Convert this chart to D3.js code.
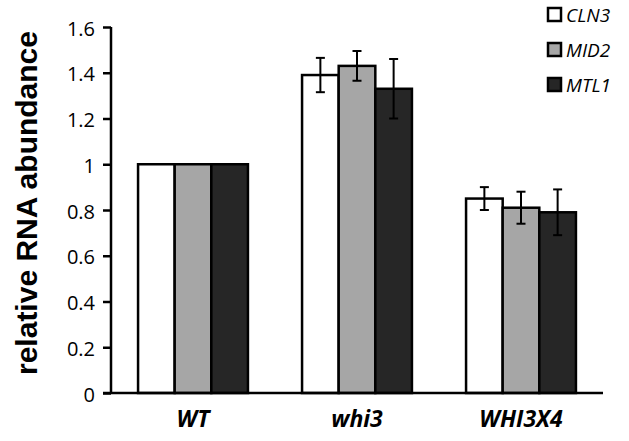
<!DOCTYPE html>
<html>
<head>
<meta charset="utf-8">
<script src="https://cdn.jsdelivr.net/npm/d3@7"></script>
<style>
  body { margin: 0; background: #fff; }
</style>
</head>
<body>
<div id="chart"></div>
<script>
var strains = ["WT", "whi3", "WHI3X4"];
var genes = ["CLN3", "MID2", "MTL1"];
var cln3 = [1, 1.39, 0.85];
var mid2 = [1, 1.43, 0.81];
var mtl1 = [1, 1.33, 0.79];
var cln3Err = [0, 0.075, 0.05];
var mid2Err = [0, 0.065, 0.07];
var mtl1Err = [0, 0.13, 0.10];
var yTicks = [0, 0.2, 0.4, 0.6, 0.8, 1, 1.2, 1.4, 1.6];
var colors = ["#ffffff", "#a6a6a6", "#262626"];

var values = [cln3, mid2, mtl1];
var errs = [cln3Err, mid2Err, mtl1Err];

var width = 629, height = 441;
var plotLeft = 111, plotRight = 603, plotTop = 27, plotBottom = 393;

var svg = d3.select("#chart").append("svg")
  .attr("width", width)
  .attr("height", height);

var x = d3.scaleBand().domain(strains).range([plotLeft, plotRight]).padding(0);
var xi = d3.scaleBand().domain(genes).range([0, x.bandwidth() * 0.67]);
var innerOff = (x.bandwidth() - x.bandwidth() * 0.67) / 2;
var y = d3.scaleLinear().domain([0, 1.6]).range([plotBottom, plotTop]);

// bars
genes.forEach(function(g, gi){
  svg.append("g").selectAll("rect")
    .data(strains)
    .enter().append("rect")
    .attr("x", function(s){ return x(s) + innerOff + xi(g); })
    .attr("y", function(s, i){ return y(values[gi][i]); })
    .attr("width", xi.bandwidth())
    .attr("height", function(s, i){ return y(0) - y(values[gi][i]); })
    .attr("fill", colors[gi])
    .attr("stroke", "#000")
    .attr("stroke-width", 2.5);
});

// error bars
genes.forEach(function(g, gi){
  strains.forEach(function(s, i){
    var e = errs[gi][i];
    if (!e) return;
    var cx = x(s) + innerOff + xi(g) + xi.bandwidth() / 2;
    var v = values[gi][i];
    var eg = svg.append("g").attr("stroke", "#000").attr("stroke-width", 2);
    eg.append("line").attr("x1", cx).attr("x2", cx).attr("y1", y(v - e)).attr("y2", y(v + e));
    eg.append("line").attr("x1", cx - 4.5).attr("x2", cx + 4.5).attr("y1", y(v - e)).attr("y2", y(v - e));
    eg.append("line").attr("x1", cx - 4.5).attr("x2", cx + 4.5).attr("y1", y(v + e)).attr("y2", y(v + e));
  });
});

// y axis
var yAxis = svg.append("g")
  .attr("transform", "translate(" + plotLeft + ",0)")
  .call(d3.axisLeft(y).tickValues(yTicks).tickSize(8).tickPadding(8)
    .tickFormat(function(d){ return d === 0 || d === 1 ? d : d3.format(".1f")(d); }));
yAxis.select(".domain").attr("stroke-width", 2.5).attr("d", "M0," + plotTop + "V" + plotBottom);
yAxis.selectAll(".tick line").attr("stroke-width", 2.5);
yAxis.selectAll("text")
  .attr("font-family", "'Open Sans', sans-serif")
  .attr("font-size", 20)
  .attr("dy", "0.4em")
  .attr("fill", "#000");

// x axis
var xAxis = svg.append("g")
  .attr("transform", "translate(0," + plotBottom + ")")
  .call(d3.axisBottom(x).tickSize(0).tickPadding(18));
xAxis.select(".domain").attr("stroke-width", 2.5).attr("d", "M" + (plotLeft - 8) + ",0H" + plotRight);
xAxis.selectAll("text")
  .attr("font-family", "'Open Sans', sans-serif")
  .attr("font-size", 23)
  .attr("font-weight", "bold")
  .attr("font-style", "italic")
  .attr("fill", "#000");

// y title
svg.append("text")
  .attr("transform", "translate(37,203) rotate(-90)")
  .attr("text-anchor", "middle")
  .attr("font-family", "'Liberation Sans', Arial, sans-serif")
  .attr("font-size", 30)
  .attr("font-weight", "bold")
  .text("relative RNA abundance");

// legend
var legend = svg.append("g").attr("transform", "translate(548,8)");
genes.forEach(function(g, gi){
  var row = legend.append("g").attr("transform", "translate(0," + (gi * 35) + ")");
  row.append("rect")
    .attr("x", 0).attr("y", 0)
    .attr("width", 13).attr("height", 13)
    .attr("fill", colors[gi])
    .attr("stroke", "#000")
    .attr("stroke-width", 2.5);
  row.append("text")
    .attr("x", 18).attr("y", 14)
    .attr("font-family", "'Open Sans', sans-serif")
    .attr("font-size", 19)
    .attr("font-style", "italic")
    .text(g);
});
</script>
</body>
</html>
